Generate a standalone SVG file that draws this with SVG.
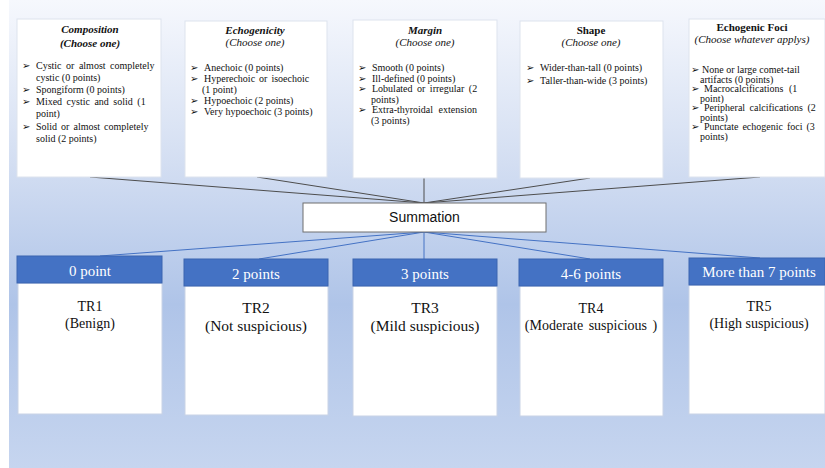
<svg xmlns="http://www.w3.org/2000/svg" width="825" height="468" viewBox="0 0 825 468">
<defs>
<linearGradient id="bg" x1="0" y1="0" x2="0" y2="1">
<stop offset="0" stop-color="#f6f8fd"/>
<stop offset="0.35" stop-color="#d3def2"/>
<stop offset="0.65" stop-color="#afc4e8"/>
<stop offset="1" stop-color="#c6d5ef"/>
</linearGradient>
<style>
.card{fill:#ffffff;stroke:#dde3ee;stroke-width:1}
.body{fill:#ffffff;stroke:#c9d3e6;stroke-width:1}
.hdr{fill:#4472c4;stroke:#3b65b0;stroke-width:1}
.t{font-size:10px;fill:#111}
.b{font-family:'DejaVu Sans',sans-serif;font-size:10px;fill:#111}
.ti{font-size:11px;font-weight:bold;font-style:italic;fill:#111;text-anchor:middle}
.tb{font-size:11px;font-weight:bold;fill:#111;text-anchor:middle}
.si{font-size:11px;font-style:italic;fill:#111;text-anchor:middle}
.ht{font-size:15px;fill:#ffffff;text-anchor:middle}
.rt{font-size:14px;fill:#111;text-anchor:middle}
.rl{font-size:15.5px;fill:#111;text-anchor:middle}
.gl{stroke:#4d4d4d;stroke-width:1;fill:none}
.bl{stroke:#4472c4;stroke-width:1;fill:none}
</style>
</defs>
<rect x="9" y="0" width="816" height="468" fill="url(#bg)"/>

<g id="connectors">
<line class="gl" x1="90" y1="177" x2="424" y2="203"/>
<line class="gl" x1="257" y1="177" x2="424" y2="203"/>
<line class="gl" x1="424" y1="178" x2="424" y2="203"/>
<line class="gl" x1="590" y1="178" x2="424" y2="203"/>
<line class="gl" x1="760" y1="177" x2="424" y2="203"/>
<line class="bl" x1="424" y1="232" x2="100" y2="256"/>
<line class="bl" x1="424" y1="232" x2="259" y2="259"/>
<line class="bl" x1="424" y1="232" x2="424" y2="259"/>
<line class="bl" x1="424" y1="232" x2="590" y2="259"/>
<line class="bl" x1="424" y1="232" x2="760" y2="258"/>
</g>

<g font-family="'Liberation Serif','Times New Roman',serif">
<g id="composition">
<rect class="card" x="17" y="19" width="144" height="158"/>
<text class="ti" x="90" y="33">Composition</text>
<text class="ti" x="90" y="47">(Choose one)</text>
<text class="b" x="22" y="69">➢</text><text class="t" x="36" y="69" word-spacing="2">Cystic or almost completely</text>
<text class="t" x="36" y="81">cystic  (0 points)</text>
<text class="b" x="22" y="93">➢</text><text class="t" x="36" y="93">Spongiform  (0 points)</text>
<text class="b" x="22" y="105">➢</text><text class="t" x="36" y="105" word-spacing="2">Mixed cystic and solid (1</text>
<text class="t" x="36" y="117">point)</text>
<text class="b" x="22" y="130">➢</text><text class="t" x="36" y="130" word-spacing="1.5">Solid or almost completely</text>
<text class="t" x="36" y="142">solid  (2 points)</text>
</g>

<g id="echogenicity">
<rect class="card" x="185" y="21" width="142" height="156"/>
<text class="ti" x="255" y="34">Echogenicity</text>
<text class="si" x="255" y="46">(Choose one)</text>
<text class="b" x="190" y="71">➢</text><text class="t" x="204" y="71">Anechoic  (0 points)</text>
<text class="b" x="190" y="82">➢</text><text class="t" x="204" y="82" word-spacing="1.5">Hyperechoic  or isoechoic</text>
<text class="t" x="202" y="93">(1 point)</text>
<text class="b" x="190" y="104">➢</text><text class="t" x="204" y="104">Hypoechoic  (2 points)</text>
<text class="b" x="190" y="115">➢</text><text class="t" x="204" y="115">Very hypoechoic  (3 points)</text>
</g>

<g id="margin">
<rect class="card" x="353" y="20" width="144" height="158"/>
<text class="ti" x="425" y="34">Margin</text>
<text class="si" x="425" y="46">(Choose one)</text>
<text class="b" x="358" y="71">➢</text><text class="t" x="372" y="71">Smooth  (0 points)</text>
<text class="b" x="358" y="81.5">➢</text><text class="t" x="372" y="81.5">Ill-defined  (0 points)</text>
<text class="b" x="358" y="92">➢</text><text class="t" x="372" y="92" word-spacing="2">Lobulated or irregular (2</text>
<text class="t" x="371" y="102.5">points)</text>
<text class="b" x="358" y="113">➢</text><text class="t" x="372" y="113" word-spacing="3">Extra-thyroidal extension</text>
<text class="t" x="371" y="123.5">(3 points)</text>
</g>

<g id="shape">
<rect class="card" x="520" y="21" width="143" height="157"/>
<text class="tb" x="591" y="34">Shape</text>
<text class="si" x="591" y="46">(Choose one)</text>
<text class="b" x="526" y="71">➢</text><text class="t" x="540" y="71">Wider-than-tall  (0 points)</text>
<text class="b" x="526" y="84">➢</text><text class="t" x="540" y="84">Taller-than-wide  (3 points)</text>
</g>

<g id="echogenic-foci">
<rect class="card" x="689" y="19" width="136" height="158"/>
<text class="tb" x="752" y="31">Echogenic Foci</text>
<text class="si" x="752" y="43">(Choose whatever applys)</text>
<text class="b" x="691" y="73">➢</text><text class="t" x="702" y="73">None or large comet-tail</text>
<text class="t" x="700" y="82.5">artifacts  (0 points)</text>
<text class="b" x="691" y="92">➢</text><text class="t" x="704" y="92" word-spacing="3">Macrocalcifications (1</text>
<text class="t" x="700" y="101.5">point)</text>
<text class="b" x="691" y="111">➢</text><text class="t" x="704" y="111" word-spacing="2">Peripheral calcifications (2</text>
<text class="t" x="700" y="120.5">points)</text>
<text class="b" x="691" y="130">➢</text><text class="t" x="704" y="130" word-spacing="1.5">Punctate echogenic foci (3</text>
<text class="t" x="700" y="139.5">points)</text>
</g>

<g id="tr1">
<rect class="body" x="18" y="283" width="144" height="131"/>
<rect class="hdr" x="17" y="256" width="145" height="27"/>
<text class="ht" x="90" y="276">0 point</text>
<text class="rt" x="90" y="311">TR1</text>
<text class="rt" x="90" y="328">(Benign)</text>
</g>

<g id="tr2">
<rect class="body" x="185" y="286" width="143" height="129"/>
<rect class="hdr" x="184" y="259" width="144" height="27"/>
<text class="ht" x="256" y="279">2 points</text>
<text class="rl" x="256" y="313">TR2</text>
<text class="rl" x="256" y="331">(Not suspicious)</text>
</g>

<g id="tr3">
<rect class="body" x="353" y="286" width="144" height="130"/>
<rect class="hdr" x="353" y="259" width="144" height="27"/>
<text class="ht" x="425" y="279">3 points</text>
<text class="rl" x="425" y="313">TR3</text>
<text class="rl" x="425" y="331">(Mild suspicious)</text>
</g>

<g id="tr4">
<rect class="body" x="520" y="286" width="143" height="130"/>
<rect class="hdr" x="519" y="259" width="144" height="27"/>
<text class="ht" x="591" y="279">4-6 points</text>
<text class="rt" x="591" y="313">TR4</text>
<text class="rt" x="591" y="330" word-spacing="2">(Moderate suspicious )</text>
</g>

<g id="tr5">
<rect class="body" x="689" y="285" width="136" height="129"/>
<rect class="hdr" x="689" y="258" width="136" height="27"/>
<text class="ht" x="759" y="277">More than 7 points</text>
<text class="rt" x="759" y="311">TR5</text>
<text class="rt" x="759" y="328">(High suspicious)</text>
</g>
</g>

<g id="summation">
<rect x="303" y="203" width="243" height="29" fill="#ffffff" stroke="#6f6f6f" stroke-width="1"/>
<text x="424.5" y="222" text-anchor="middle" font-family="'Liberation Sans',Arial,sans-serif" font-size="14" fill="#111">Summation</text>
</g>
</svg>
